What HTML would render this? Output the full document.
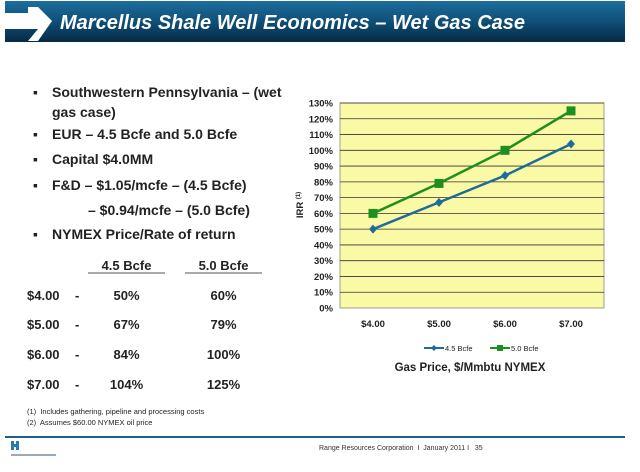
<!DOCTYPE html>
<html><head><meta charset="utf-8"><style>
html,body{margin:0;padding:0;background:#fff;}
body{width:640px;height:472px;position:relative;overflow:hidden;font-family:"Liberation Sans",Arial,sans-serif;}
.t{position:absolute;font-weight:bold;font-size:13px;color:#222;white-space:nowrap;}
.b{font-size:14px;}
</style></head><body>
<svg width="640" height="472" style="position:absolute;left:0;top:0">
<defs><linearGradient id="hg" x1="0" y1="0" x2="0" y2="1"><stop offset="0" stop-color="#1d6e9e"/><stop offset="0.5" stop-color="#0f4f78"/><stop offset="1" stop-color="#062a44"/></linearGradient></defs>
<g>
<rect x="5" y="1" width="620" height="41" fill="url(#hg)"/>
<rect x="5" y="13" width="30" height="16" fill="#fff"/>
<polygon points="28,7 38,7 52,21 38,41 28,41 38,29 28,29 28,13" fill="#fff"/>
<text x="60" y="29" fill="#fff" font-size="20" font-weight="bold" font-style="italic" font-family="Liberation Sans, sans-serif">Marcellus Shale Well Economics – Wet Gas Case</text>
</g>
<rect x="340" y="103" width="264" height="205" fill="#fafaa6" stroke="#888" stroke-width="0.8"/>
<g id="grid"></g><g id="yt" font-size="9.5" font-weight="bold" fill="#222" text-anchor="end"></g>
<g id="xt" font-size="9.5" font-weight="bold" fill="#222" text-anchor="middle"></g>
<g id="series"></g>
<text transform="translate(303,205) rotate(-90)" font-size="9.5" font-weight="bold" fill="#222" text-anchor="middle">IRR <tspan font-size="6" dy="-3">(1)</tspan></text>
<g font-size="7.5" fill="#222">
<g><line x1="424" y1="348" x2="444" y2="348" stroke="#1f6b9a" stroke-width="2"/><polygon points="434,345 437,348 434,351 431,348" fill="#1f6b9a"/><text x="445" y="351">4.5 Bcfe</text></g>
<g><line x1="490" y1="348" x2="510" y2="348" stroke="#1e8e1e" stroke-width="2"/><rect x="497" y="345" width="6" height="6" fill="#1e8e1e"/><text x="511" y="351">5.0 Bcfe</text></g>
</g>
<text x="470" y="371" font-size="11.5" font-weight="bold" fill="#222" text-anchor="middle">Gas Price, $/Mmbtu NYMEX</text>
<line x1="88" y1="273" x2="165" y2="273" stroke="#555" stroke-width="1"/>
<line x1="185" y1="273" x2="262" y2="273" stroke="#555" stroke-width="1"/>
<line x1="5" y1="437" x2="625" y2="437" stroke="#1b5f8c" stroke-width="2"/>
<g><rect x="11" y="441" width="3" height="9" fill="#2a7ab0"/><rect x="16" y="441" width="3" height="9" fill="#2a7ab0"/><rect x="13" y="444" width="5" height="3" fill="#2a7ab0"/><rect x="11" y="454" width="45" height="2" fill="#9ab"/></g>
</svg>
<div>
<div class="t b" style="left:33px;top:84px">▪</div><div class="t b" style="left:52px;top:84px">Southwestern Pennsylvania – (wet</div>
<div class="t b" style="left:52px;top:104px">gas case)</div>
<div class="t b" style="left:33px;top:126px">▪</div><div class="t b" style="left:52px;top:126px">EUR – 4.5 Bcfe and 5.0 Bcfe</div>
<div class="t b" style="left:33px;top:151px">▪</div><div class="t b" style="left:52px;top:151px">Capital $4.0MM</div>
<div class="t b" style="left:33px;top:177px">▪</div><div class="t b" style="left:52px;top:177px">F&amp;D – $1.05/mcfe – (4.5 Bcfe)</div>
<div class="t b" style="left:88px;top:202px">– $0.94/mcfe – (5.0 Bcfe)</div>
<div class="t b" style="left:33px;top:226px">▪</div><div class="t b" style="left:52px;top:226px">NYMEX Price/Rate of return</div>
</div>
<div>
<div class="t" style="left:88px;width:77px;text-align:center;top:258px">4.5 Bcfe</div>
<div class="t" style="left:185px;width:77px;text-align:center;top:258px">5.0 Bcfe</div>
<div id="rows"></div>
</div>
<div class="t" style="left:27px;top:407px;font-size:7.5px;font-weight:normal">(1)&nbsp; Includes gathering, pipeline and processing costs</div>
<div class="t" style="left:27px;top:418px;font-size:7.5px;font-weight:normal">(2)&nbsp; Assumes $60.00 NYMEX oil price</div>
<div class="t" style="left:319px;top:445px;font-size:7px;font-weight:normal;color:#333">Range Resources Corporation&nbsp; I&nbsp; January 2011 I&nbsp;&nbsp; 35</div>
<script>
const categories=["$4.00","$5.00","$6.00","$7.00"];
const series45=[50,67,84,104];
const series50=[60,79,100,125];
const yTicks=[0,10,20,30,40,50,60,70,80,90,100,110,120,130];
const NS="http://www.w3.org/2000/svg";
const x0=340,pw=264,y0=308,yTop=103,yMax=130;
const bw=pw/categories.length;
const X=i=>x0+bw*(i+0.5);
const Y=v=>y0-(v/yMax)*(y0-yTop);
function mk(tag,attrs,parent){const e=document.createElementNS(NS,tag);for(const k in attrs)e.setAttribute(k,attrs[k]);parent.appendChild(e);return e;}
const grid=document.getElementById('grid'),yt=document.getElementById('yt'),xt=document.getElementById('xt'),sg=document.getElementById('series');
yTicks.forEach(v=>{
 if(v>0){const l=mk('line',{x1:x0,x2:x0+pw,y1:Y(v),y2:Y(v),stroke:'#333','stroke-width':0.8},grid);
 
 }
 const t=mk('text',{x:333,y:Y(v)+3.5},yt);t.textContent=v+'%';
 
 
});
categories.forEach((c,i)=>{const t=mk('text',{x:X(i),y:327},xt);t.textContent=c;
 
 });
function draw(vals,color,square,name){
 const pl=mk('polyline',{points:vals.map((v,i)=>X(i)+','+Y(v)).join(' '),fill:'none',stroke:color,'stroke-width':2.5},sg);
 
 
 vals.forEach((v,i)=>{let m;
  if(square)m=mk('rect',{x:X(i)-4.5,y:Y(v)-4.5,width:9,height:9,fill:color},sg);
  else m=mk('polygon',{points:`${X(i)},${Y(v)-4.5} ${X(i)+4},${Y(v)} ${X(i)},${Y(v)+4.5} ${X(i)-4},${Y(v)}`,fill:color},sg);
  
  });
}
draw(series45,'#1f6b9a',false,'series-4-5-bcfe');
draw(series50,'#1e8e1e',true,'series-5-0-bcfe');
const rows=document.getElementById('rows');const rowY=[288,317,347,377];
categories.forEach((c,i)=>{
 const html=`<div class="t" style="left:27px;top:${rowY[i]}px">${c}</div><div class="t" style="left:75px;top:${rowY[i]}px">-</div><div class="t" style="left:88px;width:77px;text-align:center;top:${rowY[i]}px">${series45[i]}%</div><div class="t" style="left:185px;width:77px;text-align:center;top:${rowY[i]}px">${series50[i]}%</div>`;
 const d=document.createElement('div');d.innerHTML=html;
 
 
 rows.appendChild(d);
});
</script>
</body></html>
